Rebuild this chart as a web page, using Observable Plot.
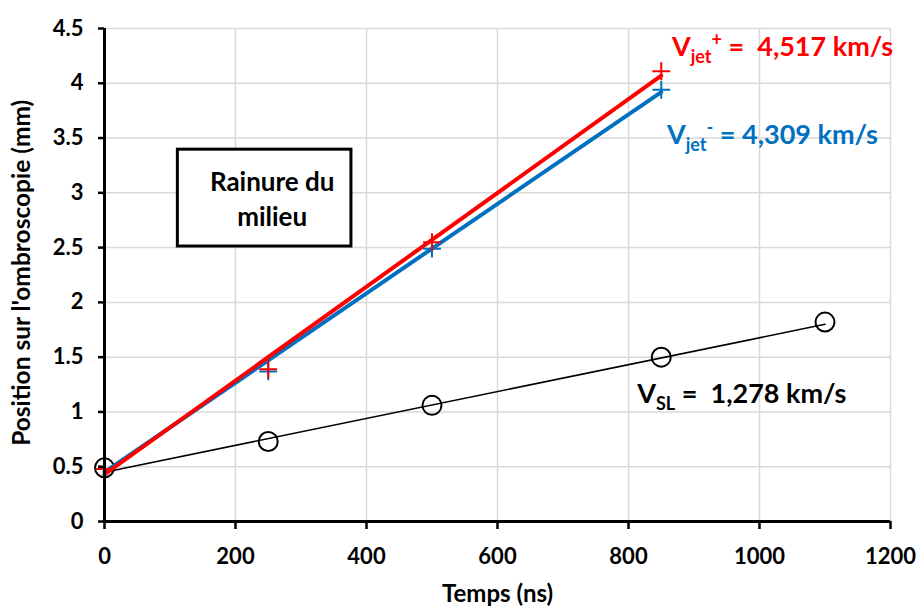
<!DOCTYPE html>
<html><head><meta charset="utf-8">
<script src="https://cdn.jsdelivr.net/npm/d3@7"></script>
<script src="https://cdn.jsdelivr.net/npm/@observablehq/plot@0.6"></script>
<style>body{margin:0;background:#fff;}</style>
</head><body><div id="chart"></div>
<script>
// measured points
const timesJet = [0, 250, 500, 850];
const jetPlus = [0.48, 1.39, 2.55, 4.11];
const jetMinus = [0.48, 1.37, 2.49, 3.94];
const timesSL = [0, 250, 500, 850, 1100];
const posSL = [0.49, 0.73, 1.06, 1.50, 1.82];
// linear fits (end points)
const fitTimesJet = [0, 850];
const fitJetPlus = [0.43, 4.07];
const fitJetMinus = [0.45, 3.92];
const fitTimesSL = [0, 1100];
const fitSL = [0.45, 1.80];
// ticks
const xTicks = [0, 200, 400, 600, 800, 1000, 1200];
const yTicks = [0, 0.5, 1, 1.5, 2, 2.5, 3, 3.5, 4, 4.5];

const RED = "#ff0000", BLUE = "#0070c0";
const zip = (xs, ys) => xs.map((x, i) => ({x, y: ys[i]}));

const plot = Plot.plot({
  width: 917, height: 608,
  marginLeft: 104, marginRight: 27, marginTop: 28, marginBottom: 87,
  style: {fontFamily: "Lato, sans-serif", fontSize: "22px", fontWeight: "bold", color: "black", background: "white"},
  x: {domain: [0, 1200]},
  y: {domain: [0, 4.5]},
  marks: [
    Plot.gridX({ticks: xTicks, stroke: "#d9d9d9", strokeOpacity: 1, strokeWidth: 1.5}),
    Plot.gridY({ticks: yTicks, stroke: "#d9d9d9", strokeOpacity: 1, strokeWidth: 1.5}),
    Plot.rect([{}], {x1: 112, x2: 377, y1: 2.51, y2: 3.394, fill: "white", stroke: "black", strokeWidth: 3}),
    Plot.text(["Rainure du\nmilieu"], {x: 256, y: 2.96, fontSize: 26, fontWeight: "bold", lineHeight: 1.33, fill: "black"}),
    Plot.line(zip(fitTimesSL, fitSL), {x: "x", y: "y", stroke: "black", strokeWidth: 1.6}),
    Plot.dot(zip(timesSL, posSL), {x: "x", y: "y", r: 9.5, stroke: "black", strokeWidth: 2, fill: "none"}),
    Plot.line(zip(fitTimesJet, fitJetMinus), {x: "x", y: "y", stroke: BLUE, strokeWidth: 4}),
    Plot.line(zip(fitTimesJet, fitJetPlus), {x: "x", y: "y", stroke: RED, strokeWidth: 4}),
    Plot.dot(zip(timesJet, jetMinus), {x: "x", y: "y", symbol: "plus", r: 5.8, stroke: BLUE, strokeWidth: 2}),
    Plot.dot(zip(timesJet, jetPlus), {x: "x", y: "y", symbol: "plus", r: 5.8, stroke: RED, strokeWidth: 2}),
    Plot.ruleY([0], {stroke: "black", strokeWidth: 3}),
    Plot.ruleX([0], {stroke: "black", strokeWidth: 3}),
    Plot.axisX({ticks: xTicks, tickSize: 8, tickPadding: 19, strokeWidth: 2.5, label: null, fontSize: 22, tickFormat: d => String(d)}),
    Plot.axisY({ticks: yTicks, tickSize: 6, tickPadding: 15, strokeWidth: 2.5, label: null, fontSize: 22, tickFormat: d => String(d)}),
    Plot.text(["Temps (ns)"], {frameAnchor: "bottom", dy: 80, fontSize: 24, fontWeight: "bold", fill: "black"}),
    Plot.text(["Position sur l'ombroscopie (mm)"], {x: -125, y: 2.27, rotate: -90, fontSize: 24.5, fontWeight: "bold", fill: "black"})
  ]
});

// velocity annotations with sub/superscripts, positioned through the plot scales
const sx = plot.scale("x"), sy = plot.scale("y");
const annotations = [
  {x: 867, y: 4.243, color: RED, sub: "jet", sup: "+", rest: " =  4,517 km/s"},
  {x: 859.5, y: 3.44, color: BLUE, sub: "jet", sup: "-", rest: " = 4,309 km/s"},
  {x: 814, y: 1.077, color: "black", sub: "SL", sup: null, rest: " =  1,278 km/s"}
];
const svg = d3.select(plot);
for (const a of annotations) {
  const t = svg.append("text")
    .attr("x", sx.apply(a.x)).attr("y", sy.apply(a.y))
    .attr("text-anchor", "start")
    .attr("fill", a.color).attr("font-size", 27).attr("font-weight", "bold")
    .attr("font-family", "Lato, sans-serif");
  t.append("tspan").text("V");
  t.append("tspan").attr("font-size", 18).attr("dy", 7).text(a.sub);
  if (a.sup) {
    t.append("tspan").attr("font-size", 18).attr("dy", -17).text(a.sup);
    t.append("tspan").attr("dy", 10).text(a.rest);
  } else {
    t.append("tspan").attr("dy", -7).text(a.rest);
  }
}
document.getElementById("chart").appendChild(plot);
</script>
</body></html>
